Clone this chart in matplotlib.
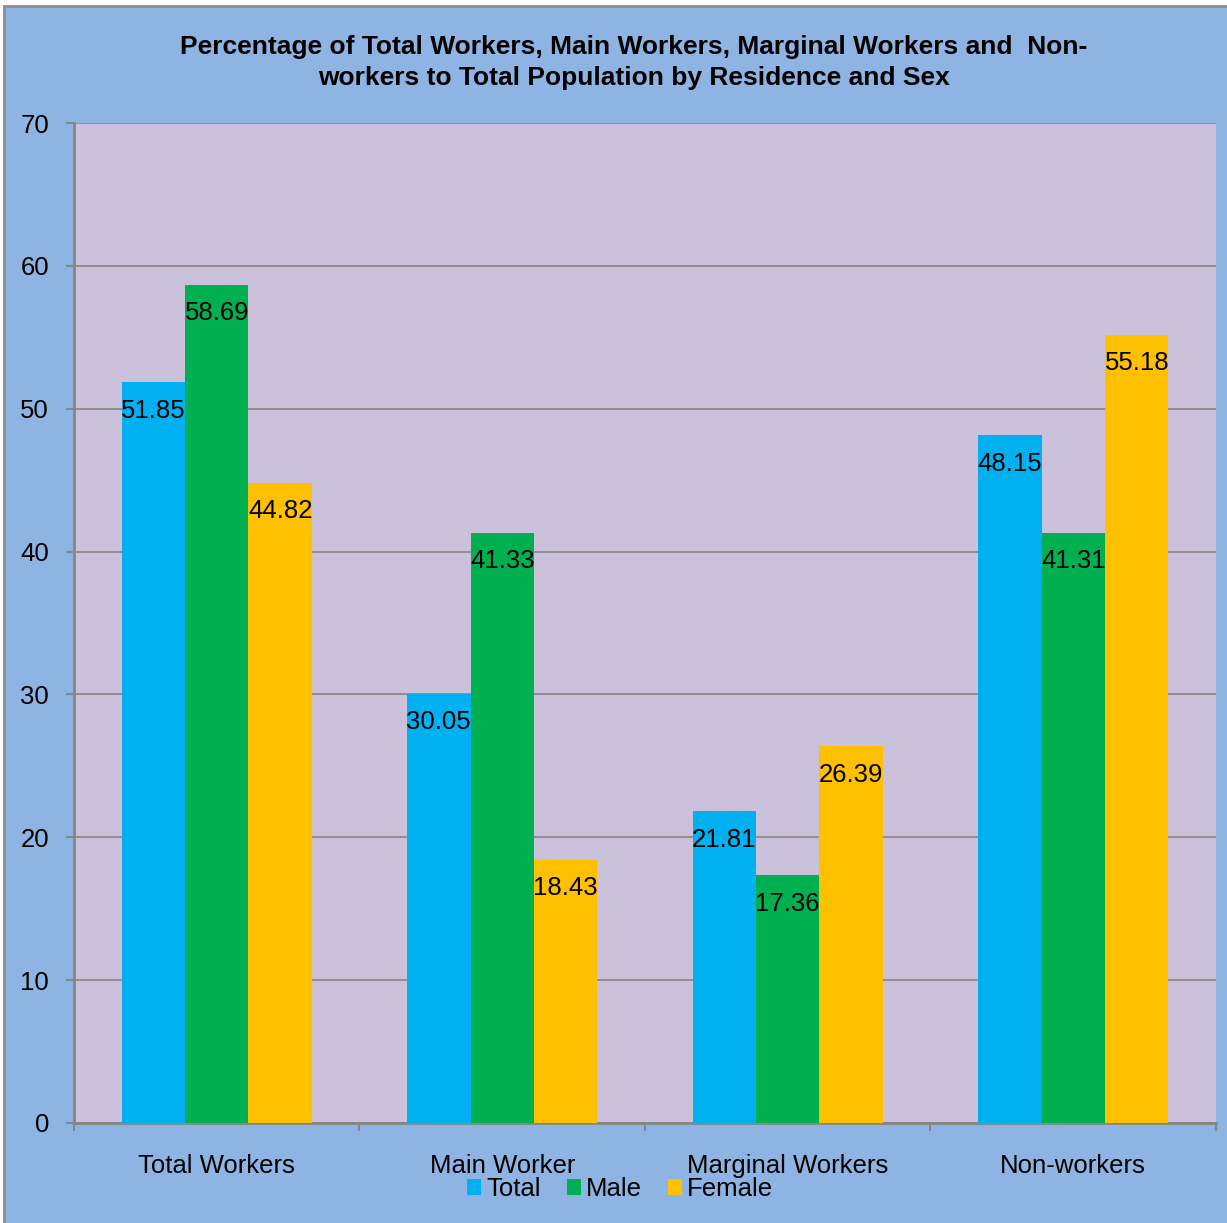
import numpy as np
import matplotlib
matplotlib.use("Agg")
import matplotlib.pyplot as plt
from matplotlib.patches import Rectangle, Patch

plt.rcParams['font.family'] = ['Liberation Sans', 'DejaVu Sans']

# Данные
categories = ["Total Workers", "Main Worker", "Marginal Workers", "Non-workers"]
series_names = ["Total", "Male", "Female"]
total_vals = [51.85, 30.05, 21.81, 48.15]
male_vals = [58.69, 41.33, 17.36, 41.31]
female_vals = [44.82, 18.43, 26.39, 55.18]
y_ticks = [0, 10, 20, 30, 40, 50, 60, 70]

colors = ["#00B0F0", "#00B050", "#FFC000"]
fig_bg = "#8EB4E3"
plot_bg = "#CCC1DA"
grid_col = "#868686"

W, H = 1227, 1223
fig = plt.figure(figsize=(W / 100, H / 100), dpi=100)
fig.patch.set_facecolor("white")

# фон диаграммы с серой рамкой (справа и снизу обрезан)
fig.patches.append(Rectangle((4 / W, -0.01), 1.05, 1 - 6 / H + 0.01,
                             transform=fig.transFigure, facecolor=fig_bg,
                             edgecolor="#8C8C8C", linewidth=2, zorder=-10))

ax = fig.add_axes([74 / W, 1 - 1123 / H, (1216 - 74) / W, 1000 / H])
ax.set_facecolor(plot_bg)

x = np.arange(len(categories))
bw = 0.2224
all_vals = [total_vals, male_vals, female_vals]
for i, vals in enumerate(all_vals):
    pos = x + (i - 1) * bw
    ax.bar(pos, vals, width=bw, color=colors[i], zorder=3, label=series_names[i])
    for px, v in zip(pos, vals):
        ax.text(px, v - 2.0, f"{v:.2f}", ha="center", va="center",
                fontsize=18.5, color="black", zorder=4)

ax.set_xlim(-0.5, len(categories) - 0.5)
ax.set_ylim(0, 70)
ax.set_yticks(y_ticks)
ax.set_yticklabels([str(t) for t in y_ticks], fontsize=18.5)
ax.yaxis.grid(True, color=grid_col, linewidth=1.2, zorder=0)
ax.set_axisbelow(True)

ax.set_xticks(np.arange(len(categories) + 1) - 0.5)
ax.set_xticklabels([])
ax.set_xticks(x, minor=True)
ax.set_xticklabels(categories, minor=True, fontsize=18.5)
ax.tick_params(axis="x", which="major", length=6, color=grid_col, width=1.5)
ax.tick_params(axis="x", which="minor", length=0, pad=22)
ax.tick_params(axis="y", length=6, color=grid_col, width=1.5, pad=12)

for s in ["top", "right"]:
    ax.spines[s].set_visible(False)
for s in ["left", "bottom"]:
    ax.spines[s].set_color(grid_col)
    ax.spines[s].set_linewidth(2)

fig.text(634 / W, 1 - 62.5 / H,
         "Percentage of Total Workers, Main Workers, Marginal Workers and  Non-\nworkers to Total Population by Residence and Sex",
         ha="center", va="center", fontsize=19, fontweight="bold", linespacing=1.36)

handles = [Patch(facecolor=c) for c in colors]
fig.legend(handles, series_names, loc="center", bbox_to_anchor=(620 / W, 1 - 1189 / H),
           ncol=3, frameon=False, fontsize=18.5, handlelength=0.55, handleheight=0.55,
           handletextpad=0.2, columnspacing=1.0, borderpad=0)

fig.savefig("out.png", dpi=100, facecolor=fig.get_facecolor())
